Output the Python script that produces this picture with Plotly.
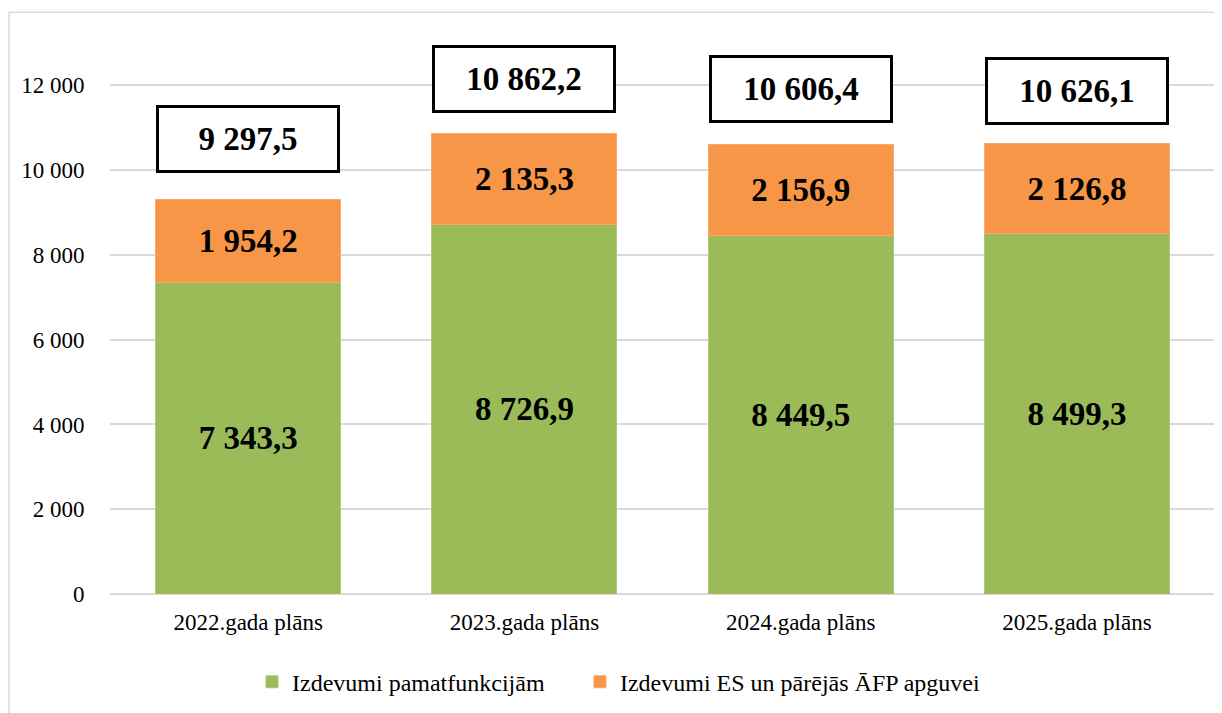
import plotly.graph_objects as go

# data
years = ['2022.gada plāns', '2023.gada plāns', '2024.gada plāns', '2025.gada plāns']
core_functions = [7343.3, 8726.9, 8449.5, 8499.3]
eu_and_other = [1954.2, 2135.3, 2156.9, 2126.8]
totals = [9297.5, 10862.2, 10606.4, 10626.1]
y_ticks = [0, 2000, 4000, 6000, 8000, 10000, 12000]

# gap in px between bar top and its total box
box_gap = [27, 21, 21, 19]

COLOR_GREEN = '#9bbb59'
COLOR_ORANGE = '#f79646'
FONT = 'Liberation Serif'


def lv(v, dec=1):
    # Latvian style: space for thousands, comma for decimals
    s = f'{v:,.{dec}f}'
    return s.replace(',', ' ').replace('.', ',')


label_font = dict(family=FONT, size=33, color='black', weight='bold')

fig = go.Figure()
fig.add_trace(go.Bar(
    x=years, y=core_functions, name='Izdevumi pamatfunkcijām',
    marker=dict(color=COLOR_GREEN, line=dict(color='#a9c878', width=1)),
    text=[lv(v) for v in core_functions], textposition='inside',
    insidetextanchor='middle', textangle=0, textfont=label_font,
    legend='legend',
))
fig.add_trace(go.Bar(
    x=years, y=eu_and_other, name='Izdevumi ES un pārējās ĀFP apguvei',
    marker=dict(color=COLOR_ORANGE, line=dict(color='#f9a870', width=1)),
    text=[lv(v) for v in eu_and_other], textposition='inside',
    insidetextanchor='middle', textangle=0, textfont=label_font,
    legend='legend2',
))

# boxed totals above each bar
for yr, t, gap in zip(years, totals, box_gap):
    fig.add_annotation(
        x=yr, y=t, text=f'<b>{lv(t)}</b>', showarrow=False,
        yanchor='bottom', yshift=gap, width=176, height=60,
        bordercolor='black', borderwidth=3, bgcolor='white',
        font=dict(family=FONT, size=33, color='black'),
    )

# light frame around the chart
fig.add_shape(type='rect', xref='paper', yref='paper',
              x0=-0.0914, x1=1.05, y0=-0.3, y1=1.056,
              line=dict(color='#d9d9d9', width=1.5), layer='below')

legend_style = dict(orientation='h', xanchor='left', y=-0.16, yanchor='middle',
                    font=dict(family=FONT, size=24, color='black'))

fig.update_layout(
    barmode='stack', bargap=0.33,
    width=1222, height=713,
    margin=dict(l=102, r=15, t=35, b=127),
    plot_bgcolor='white', paper_bgcolor='white',
    font=dict(family=FONT, size=23, color='black'),
    showlegend=True,
    legend=dict(x=0.1285, **legend_style),
    legend2=dict(x=0.4253, **legend_style),
)
fig.update_yaxes(range=[0, 13000], tickvals=y_ticks,
                 ticktext=[lv(v, 0) if v else '0' for v in y_ticks],
                 showgrid=True, gridcolor='#d9d9d9', gridwidth=1.5,
                 zeroline=True, zerolinecolor='#d9d9d9', zerolinewidth=1.5,
                 ticks='outside', ticklen=20, tickcolor='rgba(0,0,0,0)',
                 showline=False, automargin=False,
                 tickfont=dict(family=FONT, size=23, color='black'))
fig.update_xaxes(showline=False, ticks='outside', ticklen=7,
                 tickcolor='rgba(0,0,0,0)', automargin=False,
                 tickfont=dict(family=FONT, size=23, color='black'))

fig.write_html('out.html')
